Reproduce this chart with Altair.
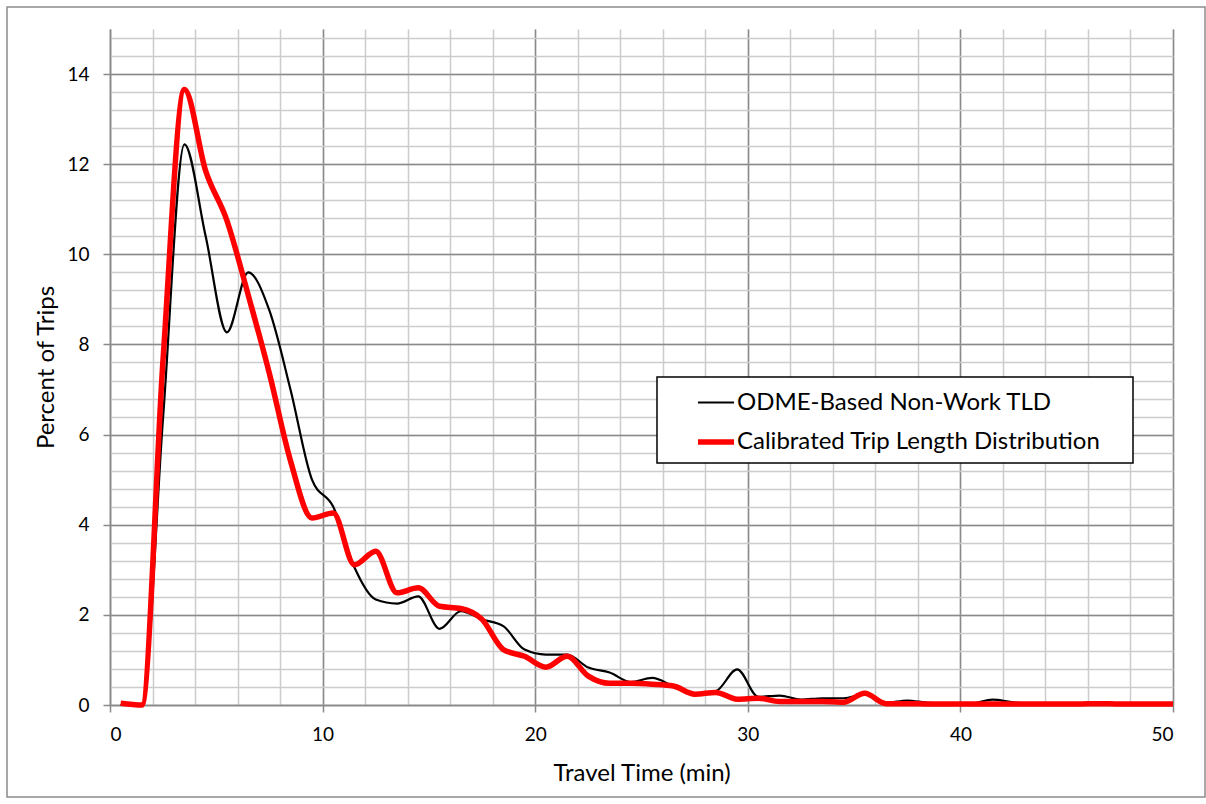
import altair as alt
import pandas as pd

# ---- data ----
series_names = ["ODME-Based Non-Work TLD", "Calibrated Trip Length Distribution"]

travel_time = [0.5, 1.5, 2.5, 3.5, 4.5, 5.5, 6.5, 7.5, 8.5, 9.5,
               10.5, 11.5, 12.5, 13.5, 14.5, 15.5, 16.5, 17.5, 18.5, 19.5,
               20.5, 21.5, 22.5, 23.5, 24.5, 25.5, 26.5, 27.5, 28.5, 29.5,
               30.5, 31.5, 32.5, 33.5, 34.5, 35.5, 36.5, 37.5, 38.5, 39.5,
               40.5, 41.5, 42.5, 43.5, 44.5, 45.5, 46.5, 47.5, 48.5, 49.5, 50]

odme_pct = [0.0, 0.0, 6.4, 12.44, 10.4, 8.27, 9.6, 8.75, 6.98, 5.0,
            4.4, 3.05, 2.34, 2.25, 2.41, 1.69, 2.08, 1.9, 1.75, 1.23,
            1.12, 1.12, 0.83, 0.72, 0.51, 0.6, 0.42, 0.26, 0.31, 0.79,
            0.18, 0.21, 0.12, 0.15, 0.15, 0.24, 0.05, 0.1, 0.05, 0.04,
            0.03, 0.12, 0.06, 0.03, 0.03, 0.03, 0.05, 0.03, 0.02, 0.04, 0.03]

calib_pct = [0.04, 0.0, 7.7, 13.66, 11.85, 10.75, 9.1, 7.35, 5.4, 4.15,
             4.26, 3.11, 3.41, 2.49, 2.6, 2.19, 2.14, 1.9, 1.23, 1.08,
             0.84, 1.08, 0.64, 0.48, 0.48, 0.46, 0.42, 0.24, 0.28, 0.13,
             0.15, 0.08, 0.08, 0.08, 0.06, 0.26, 0.03, 0.03, 0.02, 0.02,
             0.02, 0.02, 0.02, 0.02, 0.02, 0.02, 0.03, 0.02, 0.02, 0.02, 0.02]

x_major = [0, 10, 20, 30, 40, 50]
x_minor = [0, 2, 4, 6, 8, 10, 12, 14, 16, 18, 20, 22, 24, 26, 28, 30, 32, 34,
           36, 38, 40, 42, 44, 46, 48, 50]
y_major = [0, 2, 4, 6, 8, 10, 12, 14]
y_minor = [round(i * 0.4, 1) for i in range(38)]

df = pd.concat([
    pd.DataFrame({"t": travel_time, "pct": odme_pct, "series": series_names[0]}),
    pd.DataFrame({"t": travel_time, "pct": calib_pct, "series": series_names[1]}),
])

FONT = "Lato"
GRID_MAJOR = "#8a8a8a"
GRID_MINOR = "#cccccc"

xscale = alt.Scale(domain=[0, 50], nice=False, zero=False)
yscale = alt.Scale(domain=[0, 15], nice=False)
color = alt.Color("series:N", title=None,
                  scale=alt.Scale(domain=series_names, range=["#000000", "#ff0000"]),
                  legend=alt.Legend(orient="none", legendX=547, legendY=348,
                                    symbolType="stroke", symbolSize=1300,
                                    labelFont=FONT, labelFontSize=24, labelColor="black",
                                    labelOffset=0, labelLimit=0, rowPadding=6, padding=6,
                                    symbolOffset=32,
                                    strokeColor="transparent", fillColor="transparent"))
width = alt.StrokeWidth("series:N", title=None,
                        scale=alt.Scale(domain=series_names, range=[2.2, 5.5]))

base = alt.Chart(df)

black_line = base.transform_filter(
    alt.datum.series == series_names[0]
).mark_line(interpolate="monotone").encode(
    x=alt.X("t:Q", scale=xscale,
            axis=alt.Axis(orient="top", values=x_minor, grid=True, gridColor=GRID_MINOR,
                          gridWidth=1.5, labels=False, ticks=False, domain=False, title=None)),
    y=alt.Y("pct:Q", scale=yscale,
            axis=alt.Axis(orient="right", values=y_minor, grid=True, gridColor=GRID_MINOR,
                          gridWidth=1.5, labels=False, ticks=False, domain=False, title=None)),
    color=color,
    strokeWidth=width,
)

red_line = base.transform_filter(
    alt.datum.series == series_names[1]
).mark_line(interpolate="monotone").encode(
    x=alt.X("t:Q", scale=xscale,
            axis=alt.Axis(orient="bottom", values=x_major, grid=True, gridColor=GRID_MAJOR,
                          gridWidth=1.5, domainColor=GRID_MAJOR, domainWidth=1.5,
                          tickColor=GRID_MAJOR, tickWidth=1.5, tickSize=7,
                          labelFont=FONT, labelFontSize=19, labelColor="black", labelPadding=13,
                          title="Travel Time (min)", titleFont=FONT, titleFontSize=24,
                          titleFontWeight="normal", titleColor="black", titlePadding=17)),
    y=alt.Y("pct:Q", scale=yscale,
            axis=alt.Axis(orient="left", values=y_major, grid=True, gridColor=GRID_MAJOR,
                          gridWidth=1.5, domainColor=GRID_MAJOR, domainWidth=1.5,
                          tickColor=GRID_MAJOR, tickWidth=1.5, tickSize=7,
                          labelFont=FONT, labelFontSize=19, labelColor="black", labelPadding=14,
                          title="Percent of Trips", titleFont=FONT, titleFontSize=24,
                          titleFontWeight="normal", titleColor="black", titlePadding=8)),
    color=color,
    strokeWidth=width,
)

box_data = pd.DataFrame({"k": [0]})

legend_box = alt.Chart(box_data).mark_rect(
    fill="white", stroke="black", strokeWidth=1.5
).encode(
    x=alt.value(547), x2=alt.value(1023), y=alt.value(348), y2=alt.value(434)
)

frame = alt.Chart(box_data).mark_rect(
    fill="transparent", stroke="#8c8c8c", strokeWidth=1.5
).encode(
    x=alt.value(-103), x2=alt.value(1095), y=alt.value(-22), y2=alt.value(768)
)

chart = alt.layer(black_line, red_line, legend_box, frame).resolve_axis(
    x="independent", y="independent"
).properties(
    width=1063, height=676,
    padding={"left": 6, "top": 6, "right": 0, "bottom": 0},
    background="white",
).configure_view(stroke="transparent")

chart.save("out.html", embed_options={"renderer": "svg", "actions": False})
